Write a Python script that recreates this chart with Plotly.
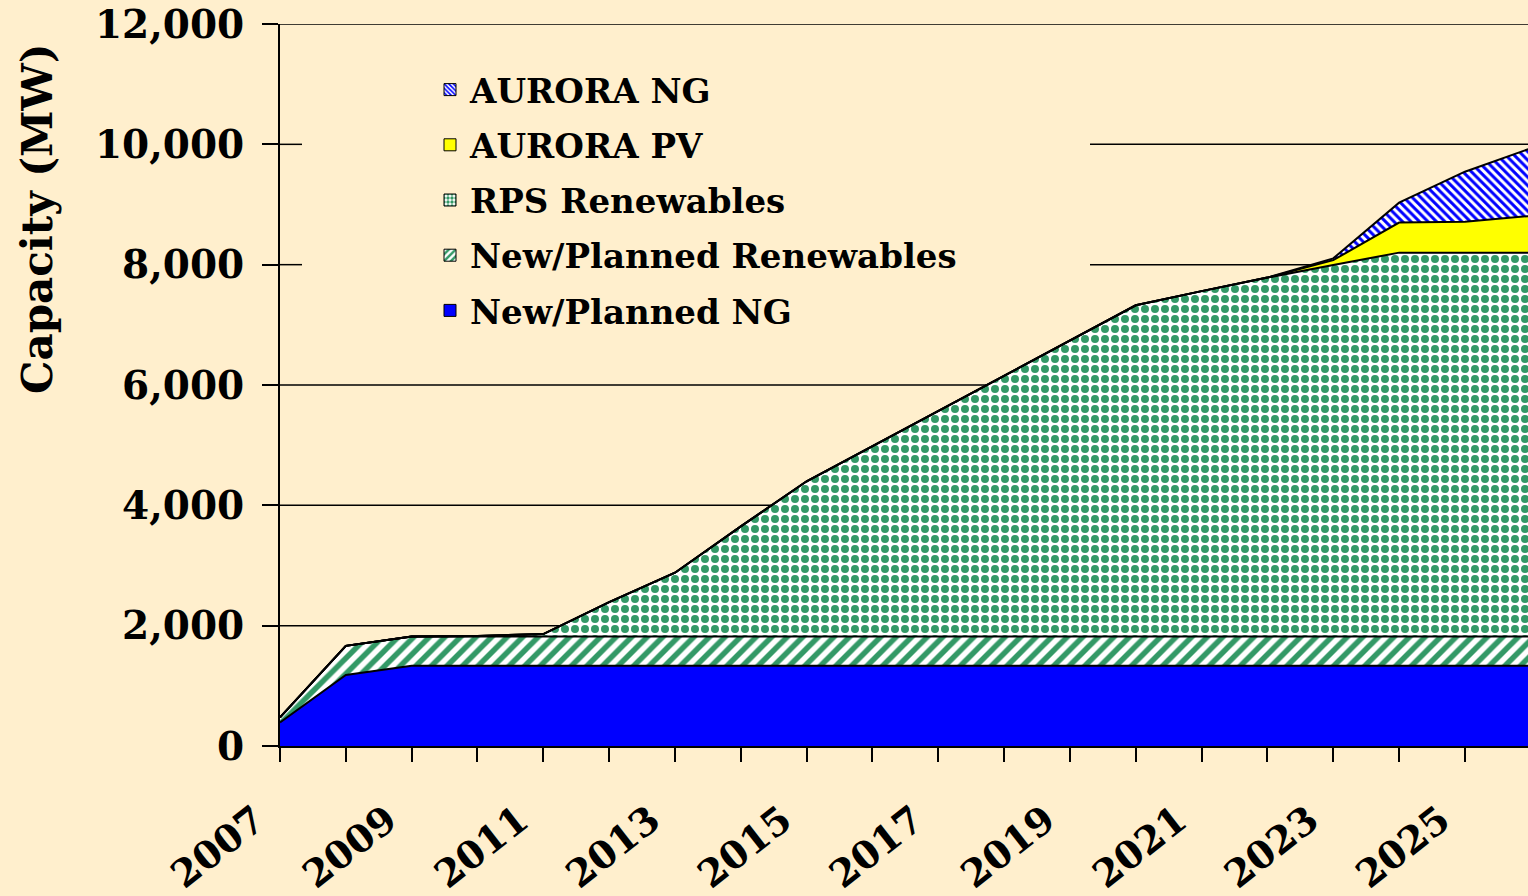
import plotly.graph_objects as go

# ---- data (MW, incremental stacked values) ----
years = list(range(2007, 2027))
tick_labels = [str(y) if (y - 2007) % 2 == 0 else "" for y in years]

new_planned_ng = [390, 1180, 1335, 1335, 1335, 1335, 1335, 1335, 1335, 1335,
                  1335, 1335, 1335, 1335, 1335, 1335, 1335, 1335, 1335, 1335]
new_planned_ren = [85, 485, 485, 485, 485, 485, 485, 485, 485, 485,
                   485, 485, 485, 485, 485, 485, 485, 485, 485, 485]
rps_renewables = [0, 0, 0, 10, 40, 570, 1060, 1830, 2580, 3165,
                  3750, 4335, 4920, 5505, 5740, 5965, 6175, 6380, 6380, 6380]
aurora_pv = [0, 0, 0, 0, 0, 0, 0, 0, 0, 0,
             0, 0, 0, 0, 0, 0, 80, 500, 515, 610]
aurora_ng = [0, 0, 0, 0, 0, 0, 0, 0, 0, 0,
             0, 0, 0, 0, 0, 0, 30, 330, 830, 1125]

series_names = ["New/Planned NG", "New/Planned Renewables", "RPS Renewables",
                "AURORA PV", "AURORA NG"]
series_values = [new_planned_ng, new_planned_ren, rps_renewables, aurora_pv, aurora_ng]

BG = "#FFEFCD"
BLUE = "#0000FF"
GREEN = "#339966"
YELLOW = "#FFFF00"

styles = {
    "New/Planned NG": dict(fillcolor=BLUE, pattern=None),
    "New/Planned Renewables": dict(fillcolor="white", pattern=dict(shape="/", fgcolor=GREEN, bgcolor="white", size=11, solidity=0.5, fgopacity=1)),
    "RPS Renewables": dict(fillcolor="white", pattern=dict(shape=".", fgcolor=GREEN, bgcolor="white", size=10, solidity=0.5, fgopacity=1)),
    "AURORA PV": dict(fillcolor=YELLOW, pattern=None),
    "AURORA NG": dict(fillcolor="white", pattern=dict(shape="\\", fgcolor=BLUE, bgcolor="white", size=6, solidity=0.5, fgopacity=1)),
}
legend_patterns = {
    "New/Planned Renewables": dict(shape="/", fgcolor=GREEN, bgcolor="white", size=6, solidity=0.5, fgopacity=1),
    "RPS Renewables": dict(shape=".", fgcolor=GREEN, bgcolor="white", size=5, solidity=0.55, fgopacity=1),
    "AURORA NG": dict(shape="\\", fgcolor=BLUE, bgcolor="white", size=4, solidity=0.5, fgopacity=1),
}

fig = go.Figure()

for name, vals in zip(series_names, series_values):
    st = styles[name]
    kw = dict(x=years, y=vals, name=name, stackgroup="one", mode="lines",
              line=dict(color="black", width=2), fillcolor=st["fillcolor"],
              showlegend=False, hoverinfo="x+y+name")
    if st["pattern"] is not None:
        kw["fillpattern"] = st["pattern"]
    fig.add_trace(go.Scatter(**kw))

# legend swatches (square), top item first
for name in ["AURORA NG", "AURORA PV", "RPS Renewables", "New/Planned Renewables", "New/Planned NG"]:
    st = styles[name]
    marker = dict(color=st["fillcolor"], line=dict(color="black", width=1))
    if name in legend_patterns:
        marker["pattern"] = legend_patterns[name]
    fig.add_trace(go.Bar(x=[None], y=[None], name=name, marker=marker,
                         legendgroup=name, showlegend=True))

# horizontal gridlines (hidden where the legend sits)
x_leg_left = (302 - 280) / 1248
x_leg_right = (1090 - 280) / 1248
shapes = []
for v in [2000, 4000, 6000, 12000]:
    shapes.append(dict(type="line", xref="paper", yref="y", x0=0, x1=1, y0=v, y1=v,
                       line=dict(color="black", width=1.5), layer="below"))
for v in [8000, 10000]:
    shapes.append(dict(type="line", xref="paper", yref="y", x0=0, x1=x_leg_left, y0=v, y1=v,
                       line=dict(color="black", width=1.5), layer="below"))
    shapes.append(dict(type="line", xref="paper", yref="y", x0=x_leg_right, x1=1, y0=v, y1=v,
                       line=dict(color="black", width=1.5), layer="below"))

fig.update_layout(
    width=1528, height=896,
    margin=dict(l=280, r=0, t=24, b=150, autoexpand=False),
    paper_bgcolor=BG, plot_bgcolor=BG,
    font=dict(family="DejaVu Serif", color="black", weight="bold"),
    shapes=shapes,
    showlegend=True,
    legend=dict(x=(430 - 280) / 1248, y=(746 - 61) / 722, xanchor="left", yanchor="top",
                bgcolor="rgba(0,0,0,0)", font=dict(size=34, family="DejaVu Serif", weight="bold"),
                tracegroupgap=8, traceorder="grouped"),
    annotations=[dict(text="Capacity (MW)", textangle=-90, xref="paper", yref="paper",
                      x=0, xshift=-242, y=(746 - 219) / 722, xanchor="center", yanchor="middle",
                      showarrow=False, font=dict(size=42, family="DejaVu Serif", weight="bold"))],
)

fig.update_xaxes(range=[2007, 2007 + 1248 / 65.83], tickvals=years, ticktext=tick_labels,
                 tickangle=-38, ticks="outside", ticklen=14, tickwidth=2, tickcolor="black",
                 showline=True, linecolor="black", linewidth=2, showgrid=False, zeroline=False,
                 tickfont=dict(size=38, family="DejaVu Serif", weight="bold"),
                 ticklabelstandoff=21, ticklabelshift=-24, automargin=False)
fig.update_yaxes(range=[0, 12000], tickvals=[0, 2000, 4000, 6000, 8000, 10000, 12000],
                 tickformat=",d", ticks="outside", ticklen=16, tickwidth=2, tickcolor="black",
                 showline=True, linecolor="black", linewidth=2, showgrid=False, zeroline=False,
                 tickfont=dict(size=39, family="DejaVu Serif", weight="bold"),
                 ticklabelstandoff=10, automargin=False)

fig.write_html("out.html", config={"displayModeBar": False},
               post_script="document.body.style.margin='0';document.body.style.padding='0';")
